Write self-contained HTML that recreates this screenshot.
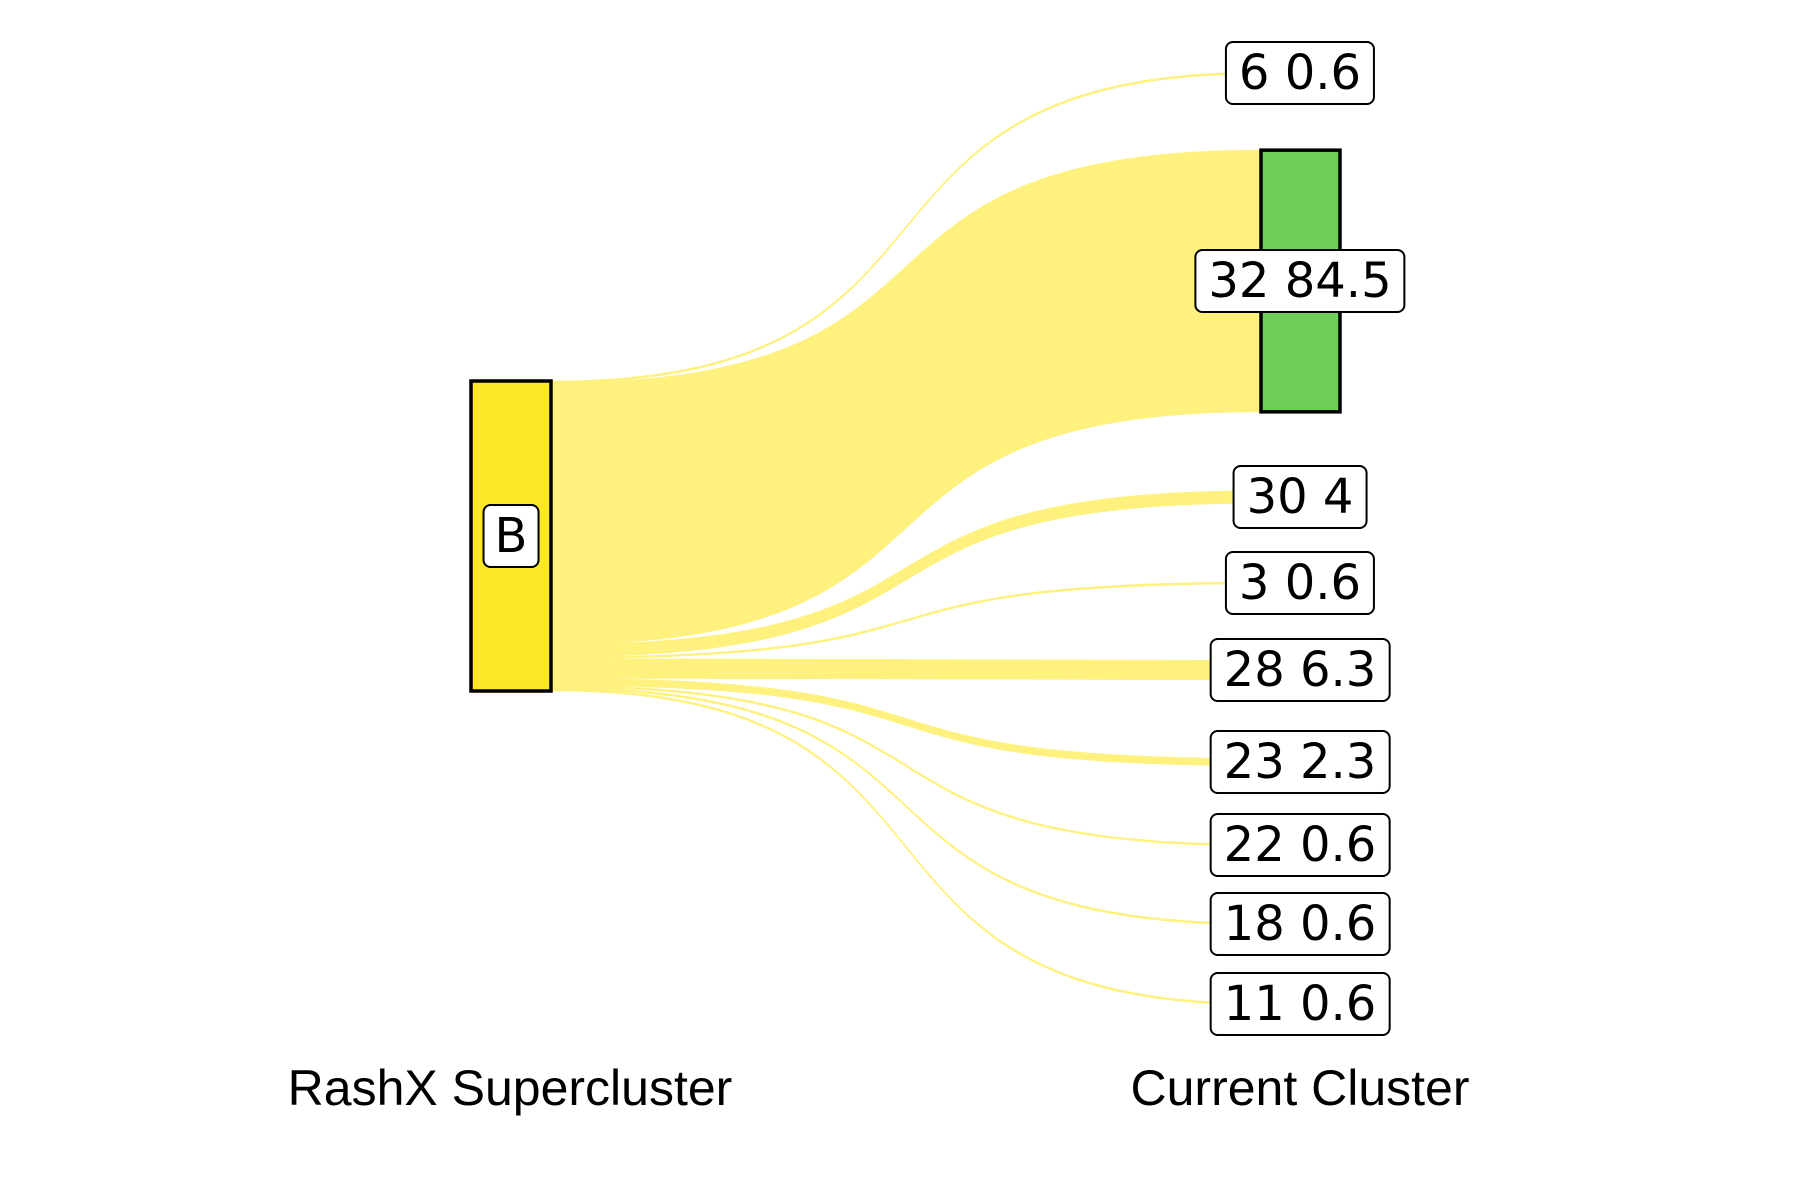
<!DOCTYPE html>
<html><head><meta charset="utf-8"><style>
html,body{margin:0;padding:0;background:#fff;width:1800px;height:1200px;overflow:hidden;}
svg{position:absolute;left:0;top:0;}
.lbl{position:absolute;transform:translate(-50%,-50%);background:#fff;border:2px solid #000;border-radius:8px;padding:1px 12px;font:48px/58px "DejaVu Sans","Liberation Sans",sans-serif;color:#000;white-space:nowrap;}
.ax{position:absolute;transform:translate(-50%,-50%);font:50px "Liberation Sans",sans-serif;color:#000;white-space:nowrap;}
</style></head><body>
<svg id="chart" width="1800" height="1200"></svg>
<div id="labels"></div>
<div class="ax" style="left:510px;top:1088px">RashX Supercluster</div>
<div class="ax" style="left:1300px;top:1088px">Current Cluster</div>
<script>
const targets = ["6","32","30","3","28","23","22","18","11"];
const values = [0.6,84.5,4,0.6,6.3,2.3,0.6,0.6,0.6];
const targetCenters = [73,281,497,583,670,762,845,924,1004];
const sourceName = "B";

const svg = document.getElementById('chart');
const NS = 'http://www.w3.org/2000/svg';
const total = values.reduce((a,b)=>a+b,0);
const srcTop = 381, srcBottom = 691, srcX0 = 471, srcX1 = 551, tgtX = 1261, tgtW = 79;
const scale = (srcBottom - srcTop) / total;
function w(v){ return v * scale; }

let y = srcTop;
values.forEach((v,i)=>{
  const h = w(v);
  const sy0 = y, sy1 = y + h; y += h;
  const ty0 = targetCenters[i] - h/2, ty1 = ty0 + h;
  const dx = tgtX - srcX1;
  const c1 = srcX1 + dx*0.64, c2 = tgtX - dx*0.64;
  const p = document.createElementNS(NS,'path');
  p.setAttribute('d', `M${srcX1},${sy0} C${c1},${sy0} ${c2},${ty0} ${tgtX},${ty0} L${tgtX},${ty1} C${c2},${ty1} ${c1},${sy1} ${srcX1},${sy1} Z`);
  p.setAttribute('fill','#fff17e');
  p.setAttribute('stroke','#fff17e');
  p.setAttribute('stroke-width','0.6');
  
  
  svg.appendChild(p);
});

const src = document.createElementNS(NS,'rect');
src.setAttribute('x',srcX0); src.setAttribute('y',srcTop);
src.setAttribute('width',srcX1-srcX0); src.setAttribute('height',srcBottom-srcTop);
src.setAttribute('fill','#fce626'); src.setAttribute('stroke','#000'); src.setAttribute('stroke-width','3.5');


svg.appendChild(src);

const big = values.indexOf(Math.max(...values));
const gh = w(values[big]);
const g = document.createElementNS(NS,'rect');
g.setAttribute('x',tgtX); g.setAttribute('y',targetCenters[big]-gh/2);
g.setAttribute('width',tgtW); g.setAttribute('height',gh);
g.setAttribute('fill','#6dce59'); g.setAttribute('stroke','#000'); g.setAttribute('stroke-width','3.5');


svg.appendChild(g);

const L = document.getElementById('labels');
const sl = document.createElement('div');
sl.className='lbl'; sl.style.left=((srcX0+srcX1)/2)+'px'; sl.style.top=((srcTop+srcBottom)/2)+'px';
sl.style.padding='1px 10px';
sl.textContent = sourceName;


L.appendChild(sl);
targets.forEach((t,i)=>{
  const d = document.createElement('div');
  d.className='lbl'; d.style.left='1300px'; d.style.top=targetCenters[i]+'px';
  d.textContent = t + ' ' + values[i];
  
  
  L.appendChild(d);
});
</script>
</body></html>
